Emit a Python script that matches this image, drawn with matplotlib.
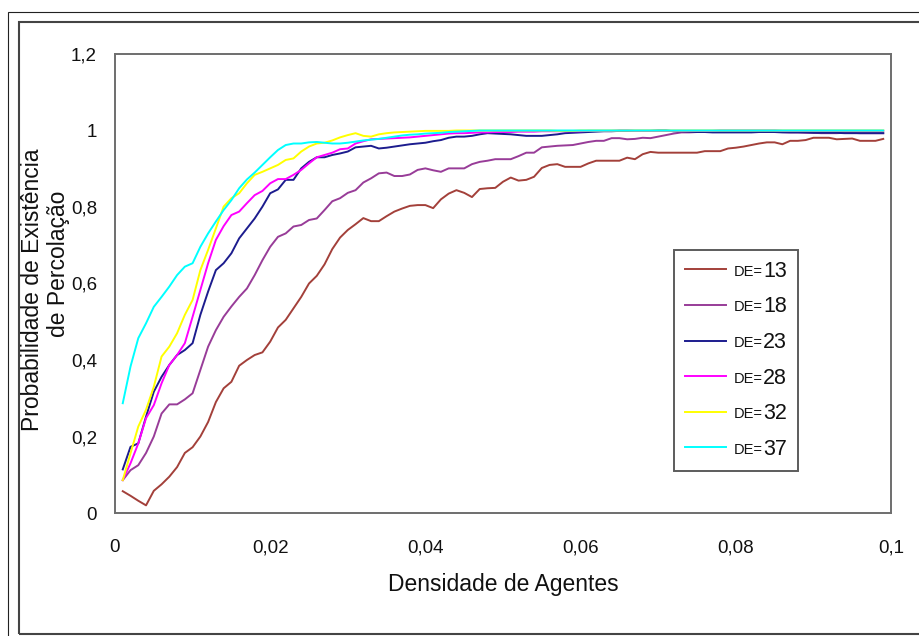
import numpy as np
import matplotlib
matplotlib.use("Agg")
import matplotlib.pyplot as plt
from matplotlib.patches import Rectangle

plt.rcParams['font.family'] = ['Liberation Sans', 'DejaVu Sans']

# Agent density grid (0.001 .. 0.099)
density = np.round(np.arange(1, 100) * 0.001, 3)

de_13 = [
    .057, .045, .032, .020, .058, .075, .095, .120, .157, .172,
    .200, .238, .290, .326, .343, .385, .400, .413, .420, .448,
    .485, .505, .535, .565, .600, .620, .650, .690, .720, .740,
    .755, .771, .763, .763, .776, .788, .796, .803, .805, .805,
    .797, .820, .835, .844, .837, .826, .847, .849, .850, .866,
    .877, .869, .871, .879, .902, .910, .912, .905, .905, .905,
    .914, .921, .921, .921, .921, .929, .925, .938, .944, .942,
    .942, .942, .942, .942, .942, .946, .946, .946, .953, .955,
    .958, .962, .966, .969, .969, .964, .973, .973, .975, .981,
    .981, .981, .977, .978, .979, .973, .973, .973, .978,
]
de_18 = [
    .086, .112, .125, .157, .200, .260, .284, .284, .297, .313,
    .374, .435, .478, .513, .540, .565, .587, .622, .661, .696,
    .722, .731, .749, .753, .766, .770, .792, .815, .823, .837,
    .844, .864, .875, .888, .890, .881, .881, .885, .897, .901,
    .896, .892, .901, .901, .901, .912, .918, .921, .925, .925,
    .925, .933, .942, .942, .956, .958, .960, .961, .962, .966,
    .970, .973, .973, .980, .980, .977, .978, .981, .980, .984,
    .988, .992, .995, .995, .996, .996, .997, .997, .997, .998,
    .998, .997, .997, .997, .996, .996, .995, .995, .994, .994,
    .993, .993, .993, .994, .994, .993, .993, .993, .993,
]
de_23 = [
    .114, .173, .182, .252, .317, .356, .387, .413, .426, .444,
    .518, .579, .635, .653, .679, .718, .744, .770, .801, .836,
    .846, .871, .871, .901, .918, .930, .930, .936, .940, .945,
    .956, .958, .960, .953, .955, .958, .961, .964, .966, .968,
    .972, .975, .981, .984, .984, .986, .990, .993, .992, .991,
    .990, .988, .986, .986, .986, .988, .990, .993, .994, .995,
    .996, .997, .998, .998, .999, .999, .999, .999, .999, 1.0,
    1.0, .998, .998, .997, .996, .996, .995, .995, .995, .995,
    .995, .995, .996, .996, .996, .995, .995, .995, .995, .994,
    .994, .994, .994, .993, .993, .993, .993, .993, .993,
]
de_28 = [
    .086, .130, .182, .248, .282, .339, .387, .413, .444, .513,
    .583, .653, .714, .750, .779, .788, .810, .831, .842, .862,
    .873, .873, .884, .897, .914, .930, .936, .942, .951, .953,
    .966, .972, .977, .978, .979, .980, .981, .982, .984, .986,
    .988, .990, .992, .993, .993, .994, .995, .995, .996, .996,
    .996, .997, .997, .997, .998, .998, .998, .998, .998, .998,
    .999, .999, .999, .999, 1.0, 1.0, .999, .999, .999, .999,
    .999, .999, .999, .999, .999, .999, .999, 1.0, 1.0, 1.0,
    1.0, 1.0, 1.0, 1.0, 1.0, .999, .999, .999, .999, .999,
    .999, .999, .999, .999, .999, .999, .999, .999, .999,
]
de_32 = [
    .086, .156, .226, .270, .330, .409, .435, .470, .518, .557,
    .635, .688, .744, .801, .823, .836, .862, .884, .892, .901,
    .910, .923, .927, .945, .958, .966, .968, .974, .982, .988,
    .993, .986, .984, .990, .993, .995, .996, .997, .998, .999,
    .999, .999, .999, 1.0, 1.0, 1.0, 1.0, 1.0, 1.0, 1.0,
    1.0, 1.0, 1.0, 1.0, 1.0, 1.0, .999, .999, .999, 1.0,
    1.0, 1.0, 1.0, 1.0, 1.0, 1.0, 1.0, 1.0, 1.0, 1.0,
    1.0, 1.0, 1.0, 1.0, 1.0, 1.0, 1.0, 1.0, 1.0, 1.0,
    1.0, 1.0, 1.0, 1.0, 1.0, 1.0, 1.0, 1.0, 1.0, 1.0,
    1.0, 1.0, 1.0, 1.0, 1.0, 1.0, 1.0, 1.0, 1.0,
]
de_37 = [
    .287, .383, .457, .496, .539, .565, .592, .622, .644, .653,
    .696, .731, .762, .792, .818, .849, .872, .890, .910, .930,
    .949, .962, .966, .966, .969, .970, .968, .966, .966, .968,
    .971, .974, .976, .978, .981, .984, .987, .989, .990, .992,
    .993, .994, .996, .997, .998, .999, 1.0, 1.0, 1.0, 1.0,
    1.0, 1.0, 1.0, 1.0, 1.0, 1.0, 1.0, 1.0, 1.0, 1.0,
    1.0, 1.0, 1.0, 1.0, 1.0, 1.0, 1.0, 1.0, 1.0, 1.0,
    1.0, 1.0, 1.0, 1.0, 1.0, 1.0, 1.0, 1.0, 1.0, 1.0,
    1.0, 1.0, 1.0, 1.0, 1.0, 1.0, 1.0, 1.0, 1.0, 1.0,
    1.0, 1.0, 1.0, 1.0, 1.0, 1.0, 1.0, 1.0, 1.0,
]

series = [de_13, de_18, de_23, de_28, de_32, de_37]
de_values = ["13", "18", "23", "28", "32", "37"]
colors = ["#A3403A", "#983C98", "#1C1C8E", "#FF00FF", "#FFFF00", "#00FFFF"]

x_ticks = [0, 0.02, 0.04, 0.06, 0.08, 0.1]
x_ticklabels = ["0", "0,02", "0,04", "0,06", "0,08", "0,1"]
y_ticks = [0, 0.2, 0.4, 0.6, 0.8, 1.0, 1.2]
y_ticklabels = ["0", "0,2", "0,4", "0,6", "0,8", "1", "1,2"]

W, H = 919, 636
fig = plt.figure(figsize=(W / 100, H / 100), dpi=100)
fig.patch.set_facecolor("white")

# double frame around the chart
fig.patches.append(Rectangle((8 / W, -0.05), 1.2, 1 - 12 / H + 0.05,
                             transform=fig.transFigure, fill=False,
                             edgecolor="#222222", linewidth=0.8))
fig.patches.append(Rectangle((19 / W, 1 - 634 / H), 1.2, (634 - 22) / H,
                             transform=fig.transFigure, fill=False,
                             edgecolor="#444444", linewidth=1.5))

ax = fig.add_axes([115 / W, 1 - 513 / H, 776 / W, 459 / H])
ax.set_facecolor("white")

lines = []
for vals, c in zip(series, colors):
    ln, = ax.plot(density, vals, color=c, linewidth=1.4, solid_joinstyle="round")
    lines.append(ln)

ax.set_xlim(0, 0.1)
ax.set_ylim(0, 1.2)
ax.set_xticks(x_ticks)
ax.set_xticklabels(x_ticklabels)
ax.set_yticks(y_ticks)
ax.set_yticklabels(y_ticklabels)
ax.tick_params(axis="both", length=0, labelsize=13.5, colors="#111111")
ax.tick_params(axis="x", pad=19)
ax.tick_params(axis="y", pad=13)
for s in ax.spines.values():
    s.set_color("#6E6E6E")
    s.set_linewidth(1.4)

fig.text(503 / W, 1 - 584 / H, "Densidade de Agentes", ha="center", va="center",
         fontsize=16.5, color="#111111")
fig.text(33 / W, 1 - 290 / H, "Probabilidade de Existência", ha="center", va="center",
         rotation=90, fontsize=16.5, color="#111111")
fig.text(58 / W, 1 - 264 / H, "de Percolação", ha="center", va="center",
         rotation=90, fontsize=16.5, color="#111111")

leg = ax.legend(lines, de_values, loc="upper left",
                bbox_to_anchor=((674 - 115) / 776, (513 - 250) / 459),
                frameon=True, fancybox=False, fontsize=15.5,
                handlelength=1.9, handletextpad=1.75, labelspacing=0.68,
                borderpad=0.5, borderaxespad=0)
leg.get_frame().set_edgecolor("#333333")
leg.get_frame().set_linewidth(1.4)
leg.set_zorder(5)
for t in leg.get_texts():
    t.set_color("#111111")
    # small "DE=" prefix sitting on the baseline of each legend number
    ax.annotate("DE=", xy=(0, 0.21), xycoords=t, xytext=(-0.5, 1.2),
                textcoords="offset points", ha="right", va="baseline",
                fontsize=10.5, color="#111111", zorder=10)

fig.savefig("out.png", dpi=100)
